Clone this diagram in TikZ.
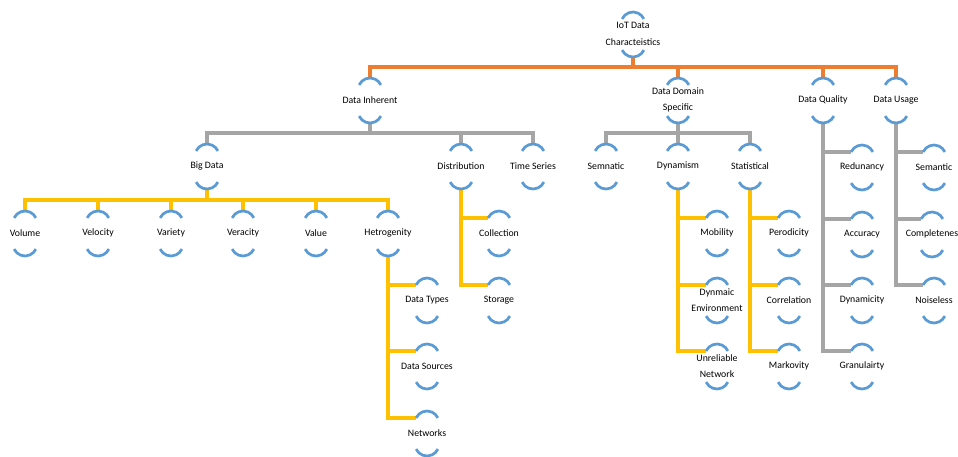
\documentclass[tikz,border=0pt]{standalone}
\usepackage{fontspec}
\setmainfont{Carlito}
\usetikzlibrary{calc,backgrounds}
\definecolor{cOr}{HTML}{ED7D31}
\definecolor{cGr}{HTML}{A5A5A5}
\definecolor{cYe}{HTML}{FFC000}
\definecolor{cBl}{HTML}{5B9BD5}
\tikzset{
  lbl/.style={font=\fontsize{9.8}{16.5}\selectfont, align=center, inner sep=0pt},
  arcst/.style={draw=cBl, line width=2.7pt},
  conO/.style={draw=cOr, line width=3.1pt},
  conG/.style={draw=cGr, line width=3.1pt},
  conY/.style={draw=cYe, line width=3.1pt},
}
\newcommand\mynode[4]{%
  \node[lbl] (#1) at (#2,-#3) {#4};
  \coordinate (#1-top) at (#2,-#3+22);
  \coordinate (#1-bot) at (#2,-#3-23);
  \coordinate (#1-left) at (#2-10.9,-#3+15);
  \draw[arcst] (#2-10.9,-#3+15.07) arc[start angle=155,end angle=25,radius=12];
  \draw[arcst] (#2-10.9,-#3-16.07) arc[start angle=205,end angle=335,radius=12];
}
\begin{document}
\begin{tikzpicture}[x=1pt,y=1pt]
\useasboundingbox (0,0) rectangle (958,-457);
% level 0,1
\mynode{iot}{633}{34}{IoT Data\\Characteistics}
\mynode{inh}{370}{100}{Data Inherent}
\mynode{dds}{678}{100}{Data Domain\\Specific}
\mynode{dq}{823}{100}{Data Quality}
\mynode{du}{896}{100}{Data Usage}
% level 2
\mynode{big}{207}{166}{Big Data}
\mynode{dist}{461}{166}{Distribution}
\mynode{ts}{533}{166}{Time Series}
\mynode{sem}{606}{166}{Semnatic}
\mynode{dyn}{678}{166}{Dynamism}
\mynode{stat}{750}{166}{Statistical}
\mynode{red}{862}{167}{Redunancy}
\mynode{acc}{862}{234}{Accuracy}
\mynode{dnc}{862}{300}{Dynamicity}
\mynode{gra}{862}{366}{Granulairty}
\mynode{smt}{934}{167}{Semantic}
\mynode{cmp}{932}{234}{Completenes}
\mynode{noi}{934}{300}{Noiseless}
% level 3
\mynode{vol}{25}{233}{Volume}
\mynode{vel}{98}{233}{Velocity}
\mynode{var}{171}{233}{Variety}
\mynode{ver}{243}{233}{Veracity}
\mynode{val}{316}{233}{Value}
\mynode{het}{388}{233}{Hetrogenity}
\mynode{dt}{427}{300}{Data Types}
\mynode{ds}{427}{366}{Data Sources}
\mynode{net}{427}{433}{Networks}
\mynode{col}{499}{233}{Collection}
\mynode{sto}{499}{300}{Storage}
\mynode{mob}{717}{233}{Mobility}
\mynode{denv}{717}{300}{Dynmaic\\Environment}
\mynode{unr}{717}{366}{Unreliable\\Network}
\mynode{per}{789}{233}{Perodicity}
\mynode{cor}{789}{300}{Correlation}
\mynode{mar}{789}{366}{Markovity}
% bus coordinates
\coordinate (iot-bus) at (633,-67);
\coordinate (inh-bus) at (370,-133);
\coordinate (dds-bus) at (678,-133);
\coordinate (big-bus) at (207,-200);
\begin{scope}[on background layer]
  \foreach \c in {inh,dds,dq,du} \draw[conO] (iot-bot) -- (iot-bus) -| (\c-top);
  \foreach \c in {big,dist,ts} \draw[conG] (inh-bot) -- (inh-bus) -| (\c-top);
  \foreach \c in {sem,dyn,stat} \draw[conG] (dds-bot) -- (dds-bus) -| (\c-top);
  \foreach \c in {vol,vel,var,ver,val,het} \draw[conY] (big-bot) -- (big-bus) -| (\c-top);
  \foreach \c in {dt,ds,net} \draw[conY] (het-bot) |- (\c-left);
  \foreach \c in {col,sto} \draw[conY] (dist-bot) |- (\c-left);
  \foreach \c in {mob,denv,unr} \draw[conY] (dyn-bot) |- (\c-left);
  \foreach \c in {per,cor,mar} \draw[conY] (stat-bot) |- (\c-left);
  \foreach \c in {red,acc,dnc,gra} \draw[conG] (dq-bot) |- (\c-left);
  \foreach \c in {smt,cmp,noi} \draw[conG] (du-bot) |- (\c-left);
\end{scope}
\end{tikzpicture}
\end{document}
